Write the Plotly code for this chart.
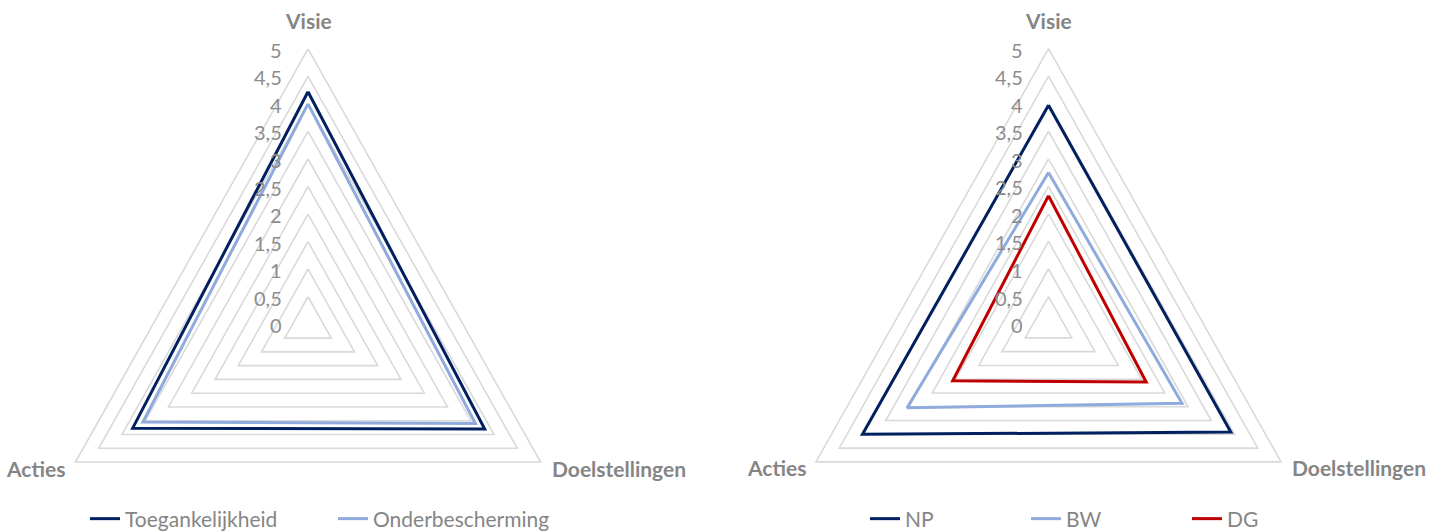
import numpy as np
import plotly.graph_objects as go

# Dimensions of the policy assessment (score 0-5)
categories = ["Visie", "Doelstellingen", "Acties"]

# Left chart: themes
toegankelijkheid = [4.22, 3.80, 3.77]
onderbescherming = [4.00, 3.60, 3.55]

# Right chart: organisations
np_scores = [3.97, 3.92, 4.00]
bw_scores = [2.75, 2.87, 3.04]
dg_scores = [2.33, 2.10, 2.06]

tick_vals = [0, 0.5, 1, 1.5, 2, 2.5, 3, 3.5, 4, 4.5, 5]
tick_text = ["0", "0,5", "1", "1,5", "2", "2,5", "3", "3,5", "4", "4,5", "5"]

NAVY = "#002060"
LIGHT = "#8FAADC"
RED = "#C00000"
GRID = "#D9D9D9"
TEXT = "#858585"
TICK_TEXT = "#8C8C8C"
FONT = "Lato"

W, H = 1446, 532
R_MAX = 5

# radar geometry: first category points up, the rest follow clockwise
n_cat = len(categories)
angles = np.deg2rad(90 - np.arange(n_cat) * 360 / n_cat)

# pixel scale of one score unit and radar centres (px from left / top)
PX_X, PX_Y = 53.7, 55.1
CENTERS = [(308.0, 324.3), (1048.5, 324.1)]


def radar_xy(values):
    r = np.asarray(values, dtype=float)
    x = r * np.cos(angles)
    y = r * np.sin(angles)
    return np.append(x, x[0]), np.append(y, y[0])


fig = go.Figure()


def add_grid(k):
    for t in tick_vals[1:]:
        gx, gy = radar_xy([t] * n_cat)
        fig.add_trace(go.Scatter(
            x=gx, y=gy, mode="lines", line=dict(color=GRID, width=1.6),
            hoverinfo="skip", showlegend=False,
            xaxis=f"x{k}", yaxis=f"y{k}",
        ))


def add_series(k, name, values, color, legend):
    sx, sy = radar_xy(values)
    fig.add_trace(go.Scatter(
        x=sx, y=sy, name=name, mode="lines",
        line=dict(color=color, width=3), legend=legend,
        xaxis=f"x{k}", yaxis=f"y{k}",
    ))


add_grid("")
add_series("", "Toegankelijkheid", toegankelijkheid, NAVY, "legend")
add_series("", "Onderbescherming", onderbescherming, LIGHT, "legend")

add_grid("2")
add_series("2", "NP", np_scores, NAVY, "legend2")
add_series("2", "BW", bw_scores, LIGHT, "legend2")
add_series("2", "DG", dg_scores, RED, "legend2")

annotations = []
for k, (cx, cy) in zip(["", "2"], CENTERS):
    xref, yref = f"x{k}", f"y{k}"
    # radial tick labels along the upward axis
    for v, txt in zip(tick_vals, tick_text):
        annotations.append(dict(
            x=0, y=v, xref=xref, yref=yref, text=txt, showarrow=False,
            xanchor="right", yanchor="middle", xshift=-24, yshift=-1,
            font=dict(family=FONT, size=20, color=TICK_TEXT),
        ))
    # category labels at the outer vertices
    ox, oy = radar_xy([R_MAX] * n_cat)
    label_pos = [
        dict(xanchor="center", yanchor="middle", xshift=0, yshift=28),
        dict(xanchor="left", yanchor="middle", xshift=9, yshift=-6),
        dict(xanchor="right", yanchor="middle", xshift=-8, yshift=-6),
    ]
    for name, px, py, pos in zip(categories, ox, oy, label_pos):
        annotations.append(dict(
            x=px, y=py, xref=xref, yref=yref, text=name, showarrow=False,
            font=dict(family=FONT, size=21, color=TEXT, weight="bold"),
            **pos,
        ))


def axis_ranges(cx, cy, x0_px, x1_px):
    xr = [(x0_px - cx) / PX_X, (x1_px - cx) / PX_X]
    yr = [-(H - cy) / PX_Y, cy / PX_Y]
    return xr, yr


hidden = dict(visible=False, fixedrange=True)
xr1, yr1 = axis_ranges(*CENTERS[0], 0, W / 2)
xr2, yr2 = axis_ranges(*CENTERS[1], W / 2, W)

legend_font = dict(family=FONT, size=21, color=TEXT)

fig.update_layout(
    width=W, height=H,
    margin=dict(l=0, r=0, t=0, b=0, autoexpand=False),
    paper_bgcolor="white", plot_bgcolor="white",
    showlegend=True,
    xaxis=dict(domain=[0, 0.5], range=xr1, **hidden),
    yaxis=dict(domain=[0, 1], range=yr1, **hidden),
    xaxis2=dict(domain=[0.5, 1], range=xr2, **hidden),
    yaxis2=dict(domain=[0, 1], range=yr2, **hidden),
    annotations=annotations,
    legend=dict(orientation="h", x=85 / W, xanchor="left",
                y=1 - 519 / H, yanchor="middle", font=legend_font,
                entrywidth=203, bgcolor="rgba(0,0,0,0)"),
    legend2=dict(orientation="h", x=865 / W, xanchor="left",
                 y=1 - 519 / H, yanchor="middle", font=legend_font,
                 entrywidth=116, bgcolor="rgba(0,0,0,0)"),
)

fig.write_html("out.html")
